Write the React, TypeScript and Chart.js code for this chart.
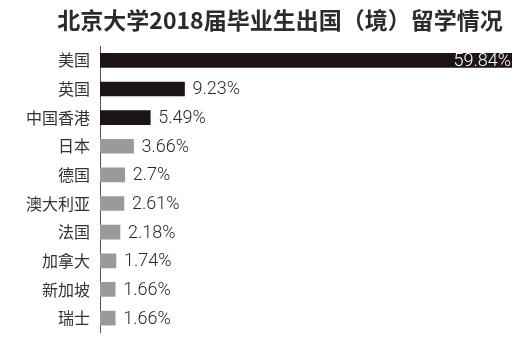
import React, { useEffect, useRef } from "react";
import { Chart, registerables } from "chart.js";

Chart.register(...registerables);

const TITLE = "北京大学2018届毕业生出国（境）留学情况";
const categories = ["美国", "英国", "中国香港", "日本", "德国", "澳大利亚", "法国", "加拿大", "新加坡", "瑞士"];
const values = [59.84, 9.23, 5.49, 3.66, 2.7, 2.61, 2.18, 1.74, 1.66, 1.66];
const valueLabels = ["59.84%", "9.23%", "5.49%", "3.66%", "2.7%", "2.61%", "2.18%", "1.74%", "1.66%", "1.66%"];
const highlightCount = 3;
const axisMax = 45;

const DARK = "#1c1415";
const GRAY = "#9a9a9a";

const titlePlugin = {
  id: "customTitle",
  afterDraw(chart: any) {
    const { ctx } = chart;
    ctx.save();
    ctx.font = "bold 23px 'Noto Sans CJK SC', sans-serif";
    ctx.fillStyle = "#2b2b2b";
    ctx.textAlign = "center";
    ctx.textBaseline = "middle";
    ctx.fillText(TITLE, 280, 20);
    ctx.restore();
  },
};

const valueLabelPlugin = {
  id: "valueLabels",
  afterDatasetsDraw(chart: any) {
    const { ctx, chartArea } = chart;
    const meta = chart.getDatasetMeta(0);
    ctx.save();
    ctx.font = "300 18px Roboto, 'Noto Sans', sans-serif";
    ctx.textBaseline = "middle";
    meta.data.forEach((bar: any, i: number) => {
      const label = valueLabels[i];
      if (bar.x >= chartArea.right - 1) {
        ctx.fillStyle = "#ffffff";
        ctx.textAlign = "right";
        ctx.fillText(label, chartArea.right - 1, bar.y + 1);
      } else {
        ctx.fillStyle = "#2a2a2a";
        ctx.textAlign = "left";
        ctx.fillText(label, bar.x + 8, bar.y + 1);
      }
    });
    ctx.restore();
  },
};

export default function App() {
  const canvasRef = useRef<HTMLCanvasElement | null>(null);

  useEffect(() => {
    if (!canvasRef.current) return;
    const chart = new Chart(canvasRef.current, {
      type: "bar",
      data: {
        labels: categories,
        datasets: [
          {
            data: values,
            backgroundColor: values.map((_, i) => (i < highlightCount ? DARK : GRAY)),
            barThickness: 14,
            borderWidth: 0,
          },
        ],
      },
      options: {
        indexAxis: "y",
        responsive: false,
        animation: false,
        layout: { padding: { left: 0, right: 19, top: 46, bottom: 3 } },
        plugins: {
          legend: { display: false },
          tooltip: { enabled: false },
          title: { display: false },
        },
        scales: {
          x: {
            display: false,
            min: 0,
            max: axisMax,
          },
          y: {
            afterFit: (scale: any) => {
              scale.width = 100;
            },
            grid: { display: false, drawTicks: false },
            border: { display: true, color: "#555555", width: 1 },
            ticks: {
              color: "#333333",
              padding: 10,
              font: { size: 16, family: "'Noto Sans CJK SC', sans-serif" },
            },
          },
        },
      },
      plugins: [valueLabelPlugin, titlePlugin],
    });
    return () => chart.destroy();
  }, []);

  return (
    <div style={{ position: "absolute", left: 0, top: 0, width: 531, height: 352, background: "#ffffff" }}>
      <canvas ref={canvasRef} width={531} height={352} />
    </div>
  );
}
